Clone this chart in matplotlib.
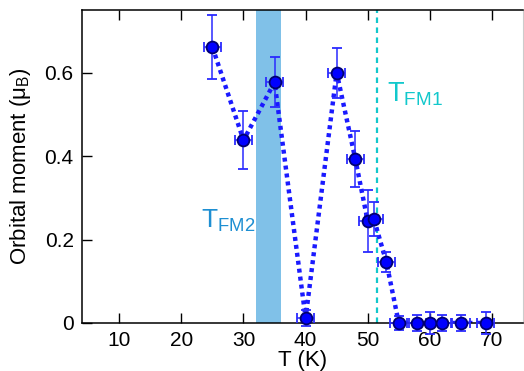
import matplotlib
matplotlib.use("Agg")
import matplotlib.pyplot as plt

plt.rcParams['font.family'] = ['Liberation Sans', 'DejaVu Sans']

# temperature (K) and orbital moment (mu_B)
temp = [25, 30, 35, 40, 45, 48, 50, 51, 53, 55, 58, 60, 62, 65, 69]
moment = [0.661, 0.438, 0.577, 0.012, 0.600, 0.393, 0.244, 0.249, 0.146,
          0.0, 0.0, 0.0, 0.0, 0.0, 0.0]
moment_err = [0.077, 0.07, 0.06, 0.02, 0.06, 0.067, 0.075, 0.04, 0.024,
              0.017, 0.02, 0.026, 0.02, 0.02, 0.026]
temp_err = [1.4] * len(temp)

band = (32, 36)
t_fm1 = 51.5

fig = plt.figure(figsize=(5.24, 3.71), dpi=100)
ax = fig.add_axes([82/524, 1-323/371, 441/524, 313/371])

ax.axvspan(band[0], band[1], color='#80c1e8', lw=0, zorder=1)
ax.axvline(t_fm1, color='#12c8cc', ls=(0, (2.5, 2)), lw=1.6, zorder=1)

ax.plot(temp, moment, ls=(0, (0.9, 0.9)), color='#1a1aff', lw=3.2, zorder=2)
ax.errorbar(temp, moment, yerr=moment_err, xerr=temp_err, fmt='o',
            color='#2a2aff', ecolor='#2a2aff', elinewidth=1.1, capsize=3.5,
            capthick=1.1, ms=8.5, mfc='#0000ff', mec='#000070', mew=1.3,
            zorder=3, clip_on=False)

ax.text(53.1, 0.53, 'T$_{\\mathregular{FM1}}$', color='#12c8cc', fontsize=19.5)
ax.text(23.2, 0.228, 'T$_{\\mathregular{FM2}}$', color='#1e8fd2', fontsize=19)

ax.set_xlim(4, 75)
ax.set_ylim(0, 0.75)
ax.set_xticks([10, 20, 30, 40, 50, 60, 70])
ax.set_yticks([0, 0.2, 0.4, 0.6])
ax.set_yticklabels(['0', '0.2', '0.4', '0.6'])
ax.tick_params(direction='in', length=7, width=1, labelsize=15,
               top=True, right=False, pad=6)
for s in ['left', 'bottom', 'top']:
    ax.spines[s].set_linewidth(1.1)
ax.spines['right'].set_color('#cccccc')

ax.set_xlabel('T (K)', fontsize=16, labelpad=0)
ax.set_ylabel('Orbital moment (μ$_{\\mathregular{B}}$)', fontsize=16, labelpad=8)

fig.savefig('out.png', dpi=100)
